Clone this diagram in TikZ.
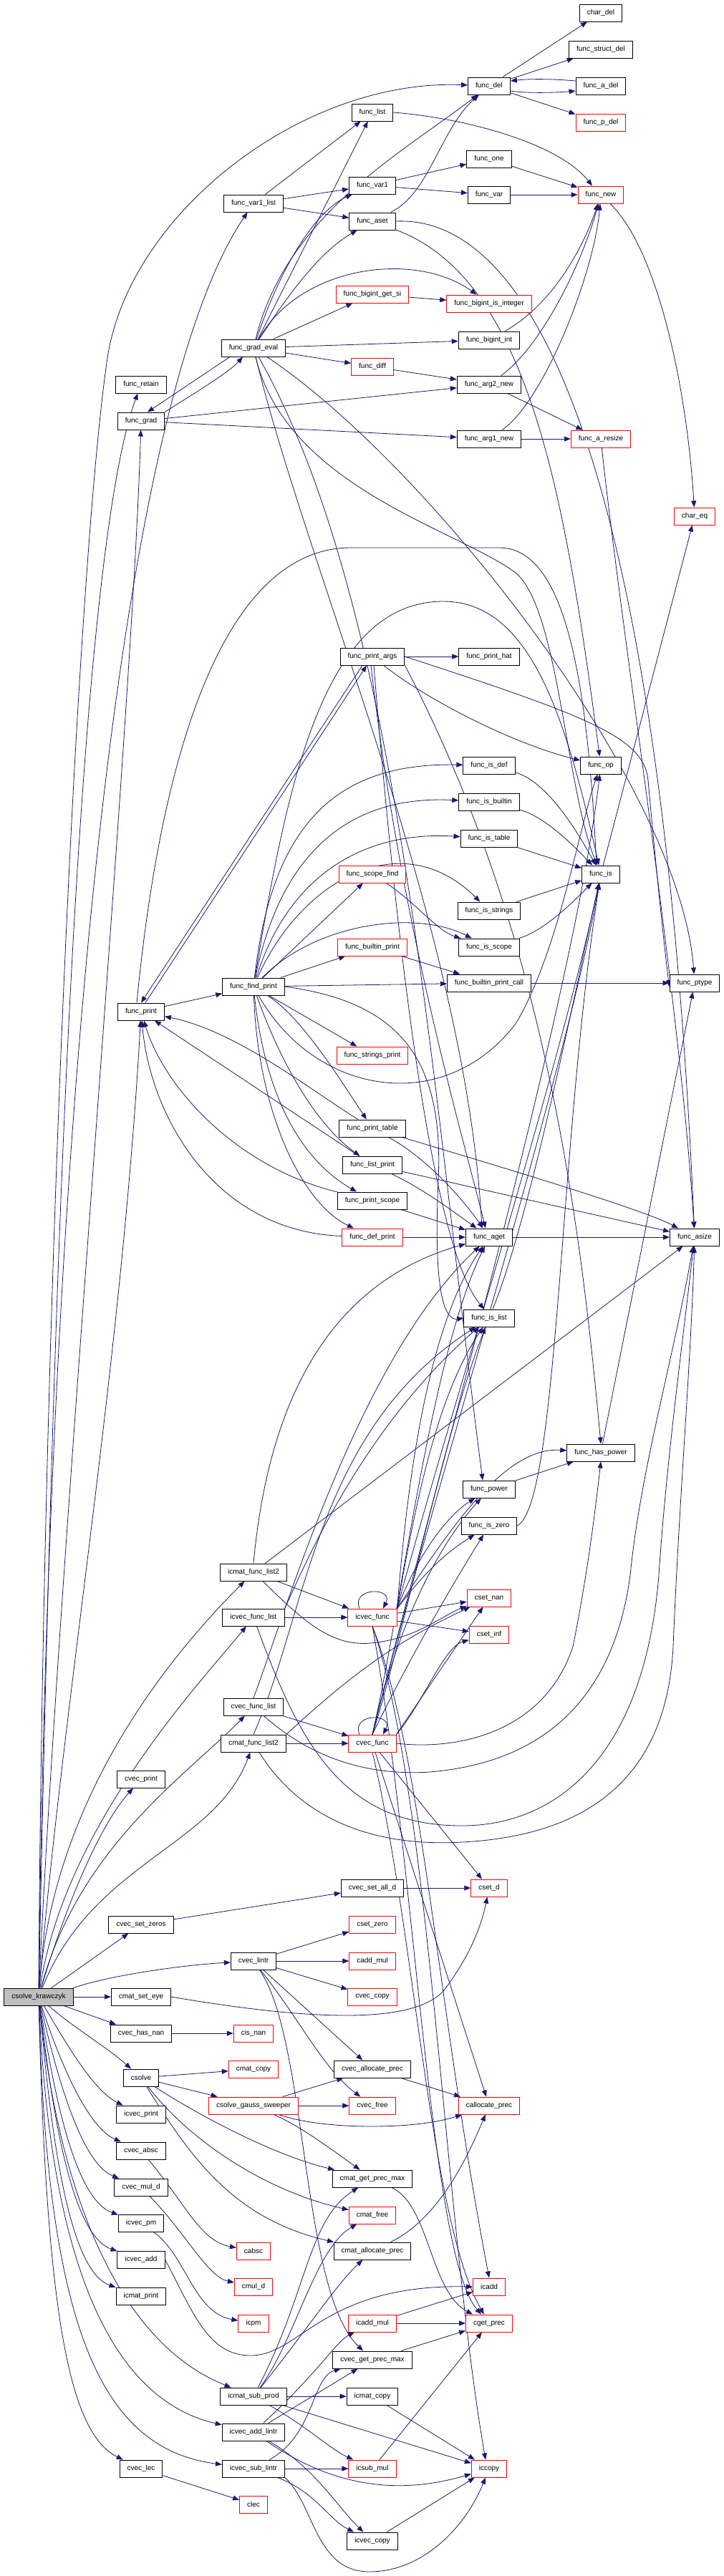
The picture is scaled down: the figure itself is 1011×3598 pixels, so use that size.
\documentclass[tikz,border=0pt]{standalone}
\usepackage{fontspec}
\setmainfont{Liberation Sans}
\usetikzlibrary{arrows.meta}
\definecolor{edgec}{HTML}{191970}
\definecolor{rootg}{HTML}{BFBFBF}
\pgfdeclarelayer{bg}
\pgfsetlayers{bg,main}
\begin{document}
\begin{tikzpicture}[x=1pt,y=-1pt,
 nb/.style={draw=black,line width=1pt,fill=white,text=black,minimum height=24pt,inner xsep=10.5pt,inner ysep=0pt,font=\fontsize{10pt}{12pt}\selectfont},
 nr/.style={nb,draw=red},
 ng/.style={nb,fill=rootg},
 ed/.style={draw=edgec,line width=0.8pt,-{Triangle[length=9pt,width=7pt]}}]
\useasboundingbox (0,0) rectangle (1011,3598);
% column 1
\node[ng] (root) at (54,2789) {csolve\_krawczyk};
% column 2
\node[nb] (retain) at (197,537) {func\_retain};
\node[nb] (grad) at (197,588) {func\_grad};
\node[nb] (print) at (197,1413) {func\_print};
\node[nb] (cvecprint) at (197,2485) {cvec\_print};
\node[nb] (setzeros) at (197,2688) {cvec\_set\_zeros};
\node[nb] (seteye) at (197,2789) {cmat\_set\_eye};
\node[nb] (hasnan) at (197,2840) {cvec\_has\_nan};
\node[nb] (csolve) at (197,2902) {csolve};
\node[nb] (icvecprint) at (197,2953) {icvec\_print};
\node[nb] (absc) at (197,3004) {cvec\_absc};
\node[nb] (muld) at (197,3055) {cvec\_mul\_d};
\node[nb] (icvecpm) at (197,3105) {icvec\_pm};
\node[nb] (icvecadd) at (197,3156) {icvec\_add};
\node[nb] (icmatprint) at (197,3207) {icmat\_print};
\node[nb] (lec) at (197,3448) {cvec\_lec};
% column 3
\node[nb] (var1list) at (354,284) {func\_var1\_list};
\node[nb] (gradeval) at (354,486) {func\_grad\_eval};
\node[nb] (findprint) at (354,1378) {func\_find\_print};
\node[nb] (icmatfl2) at (354,2196) {icmat\_func\_list2};
\node[nb] (icvecfl) at (354,2259) {icvec\_func\_list};
\node[nb] (cvecfl) at (354,2384) {cvec\_func\_list};
\node[nb] (cmatfl2) at (354,2435) {cmat\_func\_list2};
\node[nb] (lintr) at (354,2739) {cvec\_lintr};
\node[nr] (cisnan) at (354,2840) {cis\_nan};
\node[nr] (cmatcopy) at (354,2890) {cmat\_copy};
\node[nr] (gauss) at (354,2941) {csolve\_gauss\_sweeper};
\node[nr] (cabsc) at (354,3144) {cabsc};
\node[nr] (cmuld) at (354,3194) {cmul\_d};
\node[nr] (icpm) at (354,3245) {icpm};
\node[nb] (icmatsubprod) at (354,3347) {icmat\_sub\_prod};
\node[nb] (icvecaddlintr) at (354,3397) {icvec\_add\_lintr};
\node[nb] (icvecsublintr) at (354,3448) {icvec\_sub\_lintr};
\node[nr] (clec) at (354,3498) {clec};
% column 4
\node[nb] (flist) at (520,157) {func\_list};
\node[nb] (var1) at (520,259) {func\_var1};
\node[nb] (aset) at (520,309) {func\_aset};
\node[nr] (bigintgetsi) at (520,411) {func\_bigint\_get\_si};
\node[nr] (diff) at (520,512) {func\_diff};
\node[nb] (printargs) at (520,917) {func\_print\_args};
\node[nr] (scopefind) at (520,1221) {func\_scope\_find};
\node[nr] (builtinprint) at (520,1323) {func\_builtin\_print};
\node[nr] (stringsprint) at (520,1474) {func\_strings\_print};
\node[nb] (printtable) at (520,1576) {func\_print\_table};
\node[nb] (listprint) at (520,1627) {func\_list\_print};
\node[nb] (printscope) at (520,1677) {func\_print\_scope};
\node[nr] (defprint) at (520,1728) {func\_def\_print};
\node[nr] (icvecfunc) at (520,2259) {icvec\_func};
\node[nr] (cvecfunc) at (520,2435) {cvec\_func};
\node[nb] (setalld) at (520,2637) {cvec\_set\_all\_d};
\node[nr] (csetzero) at (520,2688) {cset\_zero};
\node[nr] (caddmul) at (520,2739) {cadd\_mul};
\node[nr] (cveccopy) at (520,2789) {cvec\_copy};
\node[nb] (cvecallocprec) at (520,2890) {cvec\_allocate\_prec};
\node[nr] (cvecfree) at (520,2941) {cvec\_free};
\node[nb] (cmatgetprecmax) at (520,3043) {cmat\_get\_prec\_max};
\node[nr] (cmatfree) at (520,3094) {cmat\_free};
\node[nb] (cmatallocprec) at (520,3144) {cmat\_allocate\_prec};
\node[nr] (icaddmul) at (520,3245) {icadd\_mul};
\node[nb] (cvecgetprecmax) at (520,3296) {cvec\_get\_prec\_max};
\node[nb] (icmatcopy) at (520,3347) {icmat\_copy};
\node[nr] (icsubmul) at (520,3448) {icsub\_mul};
\node[nb] (icveccopy) at (520,3549) {icvec\_copy};
% column 5
\node[nb] (del) at (683,120) {func\_del};
\node[nb] (one) at (683,222) {func\_one};
\node[nb] (var) at (683,272) {func\_var};
\node[nr] (bigintisint) at (683,424) {func\_bigint\_is\_integer};
\node[nb] (bigintint) at (683,475) {func\_bigint\_int};
\node[nb] (arg2) at (683,537) {func\_arg2\_new};
\node[nb] (arg1) at (683,613) {func\_arg1\_new};
\node[nb] (printhat) at (683,917) {func\_print\_hat};
\node[nb] (isdef) at (683,1069) {func\_is\_def};
\node[nb] (isbuiltin) at (683,1120) {func\_is\_builtin};
\node[nb] (istable) at (683,1171) {func\_is\_table};
\node[nb] (isstrings) at (683,1272) {func\_is\_strings};
\node[nb] (isscope) at (683,1323) {func\_is\_scope};
\node[nb] (builtinprintcall) at (683,1373) {func\_builtin\_print\_call};
\node[nb] (aget) at (683,1728) {func\_aget};
\node[nb] (islist) at (683,1841) {func\_is\_list};
\node[nb] (power) at (683,2080) {func\_power};
\node[nb] (iszero) at (683,2131) {func\_is\_zero};
\node[nr] (csetnan) at (683,2232) {cset\_nan};
\node[nr] (csetinf) at (683,2283) {cset\_inf};
\node[nr] (csetd) at (683,2637) {cset\_d};
\node[nr] (callocprec) at (683,2941) {callocate\_prec};
\node[nr] (icadd) at (683,3194) {icadd};
\node[nr] (cgetprec) at (683,3245) {cget\_prec};
\node[nr] (iccopy) at (683,3448) {iccopy};
% column 6
\node[nb] (chardel) at (839,18) {char\_del};
\node[nb] (structdel) at (839,69) {func\_struct\_del};
\node[nb] (adel) at (839,120) {func\_a\_del};
\node[nr] (pdel) at (839,171) {func\_p\_del};
\node[nr] (new) at (839,272) {func\_new};
\node[nr] (aresize) at (839,613) {func\_a\_resize};
\node[nb] (op) at (839,1069) {func\_op};
\node[nb] (is) at (839,1221) {func\_is};
\node[nb] (haspower) at (839,2029) {func\_has\_power};
% column 7
\node[nr] (chareq) at (970,721) {char\_eq};
\node[nb] (ptype) at (970,1373) {func\_ptype};
\node[nb] (asize) at (970,1728) {func\_asize};

\begin{pgfonlayer}{bg}
\fill[white] (0,0) rectangle (1011,3598);
% top cluster
\draw[ed] (del) -- (chardel);
\draw[ed] (del) -- (structdel);
\draw[ed] ([yshift=-7pt]del.east) .. controls (730,130) and (770,130) .. ([yshift=-7pt]adel.west);
\draw[ed] ([yshift=7pt]adel.west) .. controls (770,110) and (740,110) .. ([yshift=7pt]del.east);
\draw[ed] (del) -- (pdel);
\draw[ed] (flist.east) .. controls (650,165) and (780,200) .. ([xshift=-12pt]new.north);
\draw[ed] (var1) -- (one);
\draw[ed] (var1) -- (var);
\draw[ed] (one) -- (new);
\draw[ed] (var) -- (new);
\draw[ed] (var1list) -- (flist);
\draw[ed] (var1list) -- (var1);
\draw[ed] (var1list) -- (aset);
\draw[ed] (aset) .. controls (600,270) and (615,180) .. (del);
\draw[ed] (gradeval) -- (flist);
\draw[ed] (gradeval) .. controls (400,300) and (560,215) .. (del);
\draw[ed] (gradeval) .. controls (400,350) and (450,290) .. (var1);
\draw[ed] (gradeval) .. controls (410,400) and (450,350) .. (aset);
\draw[ed] (gradeval) -- (bigintgetsi);
\draw[ed] (gradeval) .. controls (420,370) and (580,350) .. (bigintisint);
\draw[ed] (bigintgetsi) -- (bigintisint);
\draw[ed] (bigintint) .. controls (780,420) and (820,330) .. (new);
\draw[ed] (arg2) .. controls (760,480) and (815,360) .. (new);
\draw[ed] (arg1) .. controls (760,560) and (830,380) .. (new);
\draw[ed] (new) .. controls (920,350) and (960,550) .. (chareq);
\draw[ed] (gradeval) -- (bigintint);
\draw[ed] (gradeval) -- (diff);
\draw[ed] ([xshift=-33pt]gradeval.south) -- ([xshift=9pt]grad.north);
\draw[ed] (grad.north east) .. controls (270,550) and (320,520) .. ([xshift=-15pt]gradeval.south);
\draw[ed] (diff) -- (arg2);
\draw[ed] (grad) -- (arg2);
\draw[ed] (grad) -- (arg1);
\draw[ed] (arg2) -- (aresize);
\draw[ed] (arg1) -- (aresize);
\draw[ed] (is) -- (chareq);
\draw[ed] (aset) .. controls (740,390) and (790,700) .. (op);
\draw[ed] (aset.east) .. controls (760,300) and (925,700) .. (asize);
\draw[ed] (aresize) .. controls (870,900) and (950,1400) .. (asize);
\draw[ed] (gradeval) .. controls (600,650) and (950,1100) .. (ptype);
\draw[ed] (gradeval) .. controls (400,680) and (640,740) .. (720,800) .. controls (780,850) and (790,1100) .. (is);
\draw[ed] (gradeval) .. controls (560,850) and (600,1500) .. ([xshift=-9pt]power.north);
\draw[ed] (gradeval) .. controls (430,800) and (650,1300) .. ([xshift=-10pt]aget.north);
% print cluster
\draw[ed] (print) -- (findprint);
\draw[ed] ([xshift=6pt]print.north) -- ([xshift=-8pt]printargs.south);
\draw[ed] ([xshift=-14pt]printargs.south) -- (print.north);
\draw[ed] (printargs) -- (printhat);
\draw[ed] (printargs) .. controls (600,980) and (720,1040) .. (op);
\draw[ed] (printargs.east) .. controls (820,1000) and (900,1030) .. (905,1090) .. controls (915,1200) and (925,1300) .. ([yshift=-5pt]ptype.west);
\draw[ed] ([xshift=-2pt]printargs.south) .. controls (560,1300) and (650,1600) .. ([xshift=-5pt]aget.north);
\draw[ed] ([xshift=2pt]printargs.south) .. controls (560,1400) and (610,1750) .. ([xshift=-7pt]islist.north);
\draw[ed] (printargs.south east) .. controls (760,1300) and (810,1700) .. (haspower.north);
\draw[ed] (findprint) -- (scopefind);
\draw[ed] (findprint) -- (builtinprint);
\draw[ed] (findprint) -- (builtinprintcall);
\draw[ed] (findprint) -- (stringsprint);
\draw[ed] (findprint) .. controls (420,1420) and (470,1500) .. (printtable);
\draw[ed] (findprint) .. controls (390,1480) and (440,1570) .. (listprint);
\draw[ed] (findprint) .. controls (370,1530) and (420,1620) .. (printscope);
\draw[ed] (findprint) .. controls (360,1550) and (420,1680) .. (defprint);
\draw[ed] (findprint) .. controls (380,1150) and (470,1065) .. (isdef);
\draw[ed] (findprint) .. controls (390,1200) and (480,1110) .. (isbuiltin);
\draw[ed] (findprint) .. controls (400,1230) and (500,1160) .. (istable);
\draw[ed] (findprint) .. controls (420,1230) and (560,1150) .. (isstrings);
\draw[ed] (findprint) .. controls (440,1290) and (580,1270) .. (isscope);
\draw[ed] (scopefind) .. controls (580,1260) and (610,1300) .. (isscope);
\draw[ed] (builtinprint) -- (builtinprintcall);
\draw[ed] (builtinprintcall) -- (ptype);
\draw[ed] (isdef) .. controls (760,1090) and (800,1150) .. (is);
\draw[ed] (isbuiltin) .. controls (760,1140) and (800,1180) .. (is);
\draw[ed] (istable) -- (is);
\draw[ed] (isstrings) -- (is);
\draw[ed] (isscope) .. controls (760,1300) and (800,1260) .. (is);
\draw[ed] (printtable) .. controls (430,1520) and (330,1440) .. (print);
\draw[ed] (listprint) -- (print);
\draw[ed] (printscope) .. controls (330,1630) and (230,1520) .. (print);
\draw[ed] (defprint) .. controls (300,1720) and (210,1560) .. (print);
\draw[ed] (defprint) -- (aget);
\draw[ed] (printtable) .. controls (600,1620) and (650,1680) .. (aget);
\draw[ed] (listprint) .. controls (590,1660) and (630,1690) .. (aget);
\draw[ed] (printscope) -- (aget);
\draw[ed] (printtable) .. controls (700,1630) and (900,1690) .. (asize);
\draw[ed] (listprint) -- (asize);
\draw[ed] (aget) -- (asize);
\draw[ed] ([xshift=-6pt]print.north) .. controls (230,1000) and (330,765) .. (490,765) -- (697,765) .. controls (790,765) and (820,950) .. ([xshift=-6pt]is.north);
\draw[ed] (findprint) .. controls (400,1100) and (450,840) .. (619,840) .. controls (740,840) and (790,1000) .. (is);
\draw[ed] (findprint) .. controls (440,1530) and (620,1560) .. (720,1430) .. controls (780,1330) and (810,1150) .. (op);
\draw[ed] (findprint.east) .. controls (560,1400) and (620,1480) .. (612,1650) .. controls (605,1800) and (620,1845) .. (islist.west);
% right cluster
\draw[ed] (islist) .. controls (740,1700) and (800,1400) .. (is);
\draw[ed] (power) -- (haspower);
\draw[ed] (iszero.east) .. controls (780,2100) and (780,1600) .. (is);
\draw[ed] (haspower) -- (ptype);
% vector function cluster
\draw[ed] (icmatfl2) -- (icvecfunc);
\draw[ed] (icmatfl2) .. controls (420,2260) and (460,2300) .. (517,2295) .. controls (580,2290) and (620,2255) .. (csetnan);
\draw[ed] (icmatfl2.north) .. controls (380,1900) and (500,1780) .. (aget);
\draw[ed] (icmatfl2) -- (asize);
\draw[ed] (icvecfl) -- (icvecfunc);
\draw[ed] (icvecfl.north east) .. controls (420,2200) and (500,2000) .. (islist);
\draw[ed] (icvecfl) .. controls (420,2440) and (480,2550) .. (645,2550) .. controls (780,2550) and (900,2450) .. (920,2200) .. controls (930,2050) and (950,1900) .. (asize);
\draw[ed] (cvecfl) -- (cvecfunc);
\draw[ed] (cvecfl.north) .. controls (400,2250) and (500,1900) .. (aget);
\draw[ed] (cvecfl) .. controls (440,2460) and (520,2480) .. (600,2475) .. controls (780,2460) and (860,2350) .. (880,2200) .. controls (895,2050) and (940,1900) .. (asize);
\draw[ed] (cmatfl2) -- (cvecfunc);
\draw[ed] (cmatfl2.north east) .. controls (500,2330) and (560,2290) .. (csetnan);
\draw[ed] (cmatfl2.north) .. controls (430,2250) and (440,2000) .. (islist);
\draw[ed] (cmatfl2) .. controls (420,2540) and (520,2580) .. (645,2573) .. controls (800,2565) and (930,2500) .. (940,2300) .. controls (948,2100) and (965,1900) .. (asize);
\draw[ed] ([xshift=-18pt]icvecfunc.north) .. controls ([xshift=-30pt,yshift=30pt]icvecfunc.north) and ([xshift=30pt,yshift=30pt]icvecfunc.north) .. ([xshift=15pt]icvecfunc.north);
\draw[ed] (icvecfunc) -- (csetnan);
\draw[ed] (icvecfunc) -- (csetinf);
\draw[ed] (icvecfunc.north east) .. controls (580,2100) and (610,1950) .. (islist);
\draw[ed] (icvecfunc.north east) .. controls (570,2050) and (600,1850) .. (aget);
\draw[ed] (icvecfunc.north east) .. controls (580,2180) and (620,2120) .. (power);
\draw[ed] (icvecfunc.north east) .. controls (590,2200) and (620,2170) .. (iszero);
\draw[ed] (icvecfunc.north east) .. controls (620,2000) and (780,1500) .. (is);
\draw[ed] (icvecfunc.north east) .. controls (620,2150) and (700,2020) .. (haspower);
\draw[ed] (icvecfunc.south) .. controls (590,2450) and (610,2800) .. (icadd.north);
\draw[ed] (icvecfunc.south) .. controls (600,2500) and (620,3100) .. ([xshift=-5pt]iccopy.north);
\draw[ed] (icvecfunc.south) .. controls (580,2600) and (600,3150) .. (cgetprec);
\draw[ed] ([xshift=-18pt]cvecfunc.north) .. controls ([xshift=-30pt,yshift=30pt]cvecfunc.north) and ([xshift=30pt,yshift=30pt]cvecfunc.north) .. ([xshift=15pt]cvecfunc.north);
\draw[ed] (cvecfunc.north east) -- (csetnan);
\draw[ed] (cvecfunc.north east) .. controls (590,2380) and (620,2300) .. (csetinf);
\draw[ed] (cvecfunc) -- (csetd);
\draw[ed] (cvecfunc) -- (callocprec);
\draw[ed] (cvecfunc.south) .. controls (580,2700) and (600,3100) .. (cgetprec);
\draw[ed] (cvecfunc.east) .. controls (640,2445) and (760,2420) .. (800,2300) .. controls (820,2200) and (830,2120) .. (haspower.south);
\draw[ed] (cvecfunc.north) .. controls (560,2300) and (620,2000) .. (islist);
\draw[ed] (cvecfunc.north) .. controls (560,2250) and (600,1900) .. (aget);
\draw[ed] (cvecfunc.north) .. controls (560,2250) and (620,2150) .. (power);
\draw[ed] (cvecfunc.north) .. controls (580,2300) and (640,2200) .. (iszero);
\draw[ed] (cvecfunc.north) .. controls (600,2100) and (790,1500) .. (is);
\draw[ed] (cvecfunc.north) .. controls (600,2100) and (800,1400) .. (op);
% root edges
\draw[ed] (root) -- (setzeros);
\draw[ed] (root.north east) .. controls (150,2760) and (250,2745) .. (lintr);
\draw[ed] (root) -- (seteye);
\draw[ed] (root) -- (hasnan);
\draw[ed] (root) .. controls (100,2830) and (150,2860) .. (csolve);
\draw[ed] (root) .. controls (90,2850) and (130,2920) .. (icvecprint);
\draw[ed] (root) .. controls (80,2870) and (120,2970) .. (absc);
\draw[ed] (root) .. controls (75,2880) and (110,3020) .. (muld);
\draw[ed] (root) .. controls (72,2900) and (100,3070) .. (icvecpm);
\draw[ed] (root) .. controls (70,2920) and (95,3120) .. (icvecadd);
\draw[ed] (root) .. controls (68,2940) and (90,3170) .. (icmatprint);
\draw[ed] (root) .. controls (80,3050) and (160,3270) .. (icmatsubprod);
\draw[ed] (root) .. controls (70,3150) and (150,3350) .. (icvecaddlintr);
\draw[ed] (root) .. controls (65,3250) and (100,3400) .. (lec);
\draw[ed] (root) .. controls (66,3250) and (140,3420) .. (icvecsublintr);
\draw[ed] (root) .. controls (80,2700) and (130,2560) .. (cvecprint);
\draw[ed] (root) .. controls (130,2600) and (300,2580) .. (cmatfl2);
\draw[ed] (root) .. controls (110,2580) and (260,2480) .. (cvecfl);
\draw[ed] (root) .. controls (90,2550) and (280,2350) .. (icvecfl);
\draw[ed] (root) .. controls (75,2500) and (250,2300) .. (icmatfl2);
\draw[ed] (root) .. controls (85,2400) and (170,1900) .. (print);
\draw[ed] (root) .. controls (80,2200) and (185,1000) .. (grad);
\draw[ed] (root) .. controls (70,2000) and (100,800) .. (retain);
\draw[ed] (root) .. controls (65,1800) and (140,600) .. (var1list);
\draw[ed] (root) .. controls (60,1800) and (110,767) .. (150,500) .. controls (180,300) and (420,110) .. (del);
% vector / matrix utilities
\draw[ed] (setzeros) -- (setalld);
\draw[ed] (setalld) -- (csetd);
\draw[ed] (seteye.east) .. controls (450,2825) and (580,2825) .. (620,2780) .. controls (650,2740) and (670,2700) .. (csetd);
\draw[ed] (hasnan) -- (cisnan);
\draw[ed] (csolve) -- (cmatcopy);
\draw[ed] (csolve) -- (gauss);
\draw[ed] (csolve) .. controls (270,2950) and (380,3010) .. (cmatgetprecmax);
\draw[ed] (csolve) .. controls (265,2990) and (370,3060) .. (cmatfree);
\draw[ed] (csolve) .. controls (270,3020) and (330,3100) .. (cmatallocprec);
\draw[ed] (gauss) -- (cvecallocprec);
\draw[ed] (gauss) -- (cvecfree);
\draw[ed] (gauss) .. controls (450,2975) and (580,2975) .. (callocprec);
\draw[ed] (gauss) .. controls (420,2970) and (460,3000) .. (cmatgetprecmax);
\draw[ed] (cvecallocprec) -- (callocprec);
\draw[ed] (lintr) -- (csetzero);
\draw[ed] (lintr) -- (caddmul);
\draw[ed] (lintr) -- (cveccopy);
\draw[ed] (lintr) -- (cvecallocprec);
\draw[ed] (lintr) .. controls (420,2823) and (452,2890) .. (cvecfree);
\draw[ed] (lintr) .. controls (430,2850) and (420,3200) .. (cvecgetprecmax);
\draw[ed] (cmatgetprecmax) .. controls (600,3080) and (600,3200) .. (cgetprec);
\draw[ed] (cmatallocprec) .. controls (610,3100) and (650,3020) .. (callocprec);
\draw[ed] (absc) .. controls (260,3080) and (280,3130) .. (cabsc);
\draw[ed] (muld) .. controls (260,3120) and (290,3180) .. (cmuld);
\draw[ed] (icvecpm) .. controls (260,3150) and (270,3230) .. (icpm);
\draw[ed] (icvecadd.east) .. controls (270,3230) and (290,3290) .. (350,3290) .. controls (420,3290) and (450,3190) .. (icadd.west);
\draw[ed] (lec) -- (clec);
\draw[ed] (icmatsubprod) -- (icmatcopy);
\draw[ed] (icmatsubprod) -- (iccopy);
\draw[ed] (icmatsubprod) .. controls (430,3390) and (460,3420) .. (icsubmul);
\draw[ed] (icmatsubprod) .. controls (413,3267) and (440,3140) .. (cmatfree);
\draw[ed] (icmatsubprod) .. controls (419,3267) and (470,3190) .. (cmatallocprec);
\draw[ed] (icmatsubprod) .. controls (430,3200) and (430,3100) .. (cmatgetprecmax);
\draw[ed] (icvecaddlintr) .. controls (445,3313) and (470,3270) .. (icaddmul);
\draw[ed] (icvecaddlintr) -- (cvecgetprecmax);
\draw[ed] (icvecaddlintr) .. controls (450,3463) and (540,3490) .. (iccopy);
\draw[ed] (icvecaddlintr) .. controls (440,3447) and (470,3500) .. (icveccopy);
\draw[ed] (icvecsublintr) -- (icsubmul);
\draw[ed] (icvecsublintr) .. controls (440,3400) and (435,3320) .. (cvecgetprecmax);
\draw[ed] (icvecsublintr) .. controls (440,3480) and (460,3520) .. (icveccopy);
\draw[ed] (icvecsublintr.south east) .. controls (440,3500) and (440,3592) .. (516,3592) .. controls (590,3592) and (650,3530) .. (iccopy);
\draw[ed] (icaddmul) -- (icadd);
\draw[ed] (icaddmul) -- (cgetprec);
\draw[ed] (cvecgetprecmax) -- (cgetprec);
\draw[ed] (icmatcopy) -- (iccopy);
\draw[ed] (icsubmul) -- (cgetprec);
\draw[ed] (icveccopy) -- (iccopy);
\end{pgfonlayer}
\end{tikzpicture}
\end{document}
